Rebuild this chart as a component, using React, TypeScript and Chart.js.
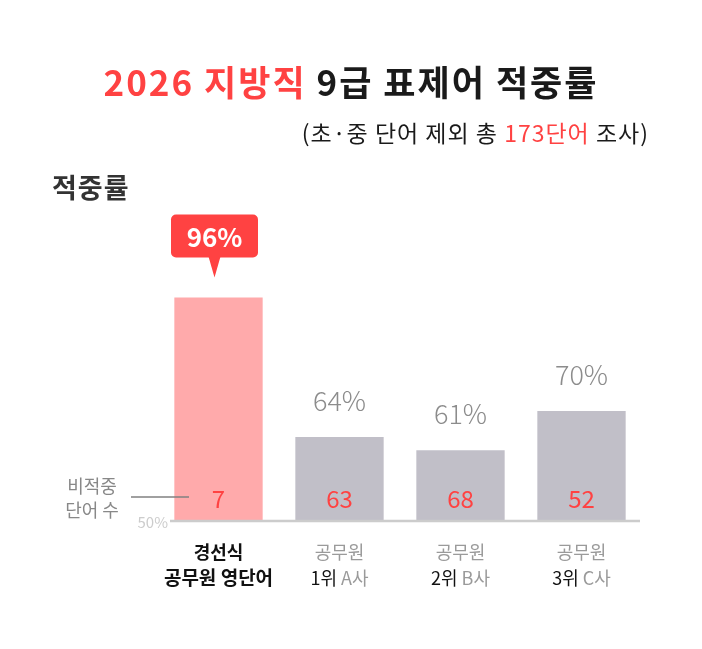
import { useEffect, useRef } from 'react';
import Chart from 'chart.js/auto';

// chart values
const labelTop = ['경선식', '공무원', '공무원', '공무원'];
const labelBottom = ['공무원 영단어', '1위 A사', '2위 B사', '3위 C사'];
const hitRates = [96, 64, 61, 70];
const missCounts = [7, 63, 68, 52];
const baseTick = '50%';

const FONT = '"Noto Sans CJK KR", "Noto Sans", sans-serif';
const font = (weight: string | number, size: number) => `${weight} ${size}px ${FONT}`;

const RED = '#ff4242';

function drawRuns(
    ctx: CanvasRenderingContext2D,
    runs: [string, string][],
    x: number,
    y: number,
    align: 'left' | 'center' | 'right'
) {
    const widths = runs.map(r => ctx.measureText(r[0]).width);
    const total = widths.reduce((a, b) => a + b, 0);
    let start = align === 'center' ? x - total / 2 : align === 'right' ? x - total : x;
    ctx.textAlign = 'left';
    runs.forEach((r, i) => {
        ctx.fillStyle = r[1];
        ctx.fillText(r[0], start, y);
        start += widths[i];
    });
}

const labelsPlugin = {
    id: 'infographicLabels',
    afterDraw(chart: Chart) {
        const ctx = chart.ctx as any;
        const area = chart.chartArea;
        const bars = chart.getDatasetMeta(0).data as any[];
        const cx = chart.width / 2;

        ctx.save();
        ctx.textBaseline = 'middle';

        // titles
        ctx.font = font('bold', 35);
        ctx.letterSpacing = '2px';
        drawRuns(ctx, [['2026 지방직', RED], [' 9급 표제어 적중률', '#1a1a1a']], cx, 83, 'center');
        ctx.font = font('normal', 23);
        ctx.letterSpacing = '1px';
        drawRuns(ctx, [['(초·중 단어 제외 총 ', '#1a1a1a'], ['173단어', RED], [' 조사)', '#1a1a1a']], 649, 133, 'right');
        ctx.font = font('bold', 27);
        ctx.letterSpacing = '1px';
        drawRuns(ctx, [['적중률', '#333333']], 52, 188, 'left');
        ctx.letterSpacing = '0px';

        // baseline
        ctx.strokeStyle = '#cccccc';
        ctx.lineWidth = 2.5;
        ctx.beginPath();
        ctx.moveTo(area.left + 12, area.bottom + 1);
        ctx.lineTo(area.right - 2, area.bottom + 1);
        ctx.stroke();

        ctx.font = font('normal', 15);
        drawRuns(ctx, [[baseTick, '#cccccc']], area.left + 10, area.bottom + 2, 'right');

        bars.forEach((bar, i) => {
            // hit rate above bar
            if (i === 0) {
                const bx = bar.x - 4;
                const top = bar.y - 83;
                const w = 87;
                const h = 43;
                ctx.fillStyle = RED;
                ctx.beginPath();
                ctx.roundRect(bx - w / 2, top, w, h, 5);
                ctx.fill();
                ctx.beginPath();
                ctx.moveTo(bx - 6, top + h - 1);
                ctx.lineTo(bx + 6, top + h - 1);
                ctx.lineTo(bx, bar.y - 20);
                ctx.closePath();
                ctx.fill();
                ctx.font = font('bold', 26);
                drawRuns(ctx, [[`${hitRates[i]}%`, '#ffffff']], bx, top + h / 2 + 1, 'center');
            } else {
                ctx.font = font(300, 27);
                drawRuns(ctx, [[`${hitRates[i]}%`, '#8c8c8c']], bar.x, bar.y - 36, 'center');
            }

            // miss count inside bar
            ctx.font = font('normal', 24);
            drawRuns(ctx, [[String(missCounts[i]), RED]], bar.x, area.bottom - 21, 'center');

            // category labels
            const y1 = area.bottom + 32;
            const y2 = area.bottom + 58;
            if (i === 0) {
                ctx.font = font('bold', 18);
                drawRuns(ctx, [[labelTop[i], '#111111']], bar.x, y1, 'center');
                ctx.font = font('bold', 19);
                drawRuns(ctx, [[labelBottom[i], '#111111']], bar.x, y2, 'center');
            } else {
                ctx.font = font('normal', 18);
                drawRuns(ctx, [[labelTop[i], '#9a9a9a']], bar.x, y1, 'center');
                const [rank, company] = labelBottom[i].split(' ');
                drawRuns(ctx, [[rank, '#111111'], [' ' + company, '#9a9a9a']], bar.x, y2, 'center');
            }
        });

        // legend note for miss counts
        ctx.font = font('normal', 18);
        drawRuns(ctx, [['비적중', '#888888']], 92, area.bottom - 34, 'center');
        drawRuns(ctx, [['단어 수', '#888888']], 92, area.bottom - 10, 'center');
        ctx.strokeStyle = '#808080';
        ctx.lineWidth = 1.5;
        ctx.beginPath();
        ctx.moveTo(131, area.bottom - 23);
        ctx.lineTo(189, area.bottom - 23);
        ctx.stroke();

        ctx.restore();
    }
};

export default function App() {
    const chartRef = useRef<HTMLCanvasElement>(null);
    const chartInstance = useRef<Chart | null>(null);

    useEffect(() => {
        if (!chartRef.current) return;
        if (chartInstance.current) {
            chartInstance.current.destroy();
        }
        const ctx = chartRef.current.getContext('2d');
        if (!ctx) return;

        chartInstance.current = new Chart(ctx, {
            type: 'bar',
            data: {
                labels: labelTop.map((t, i) => `${t} ${labelBottom[i]}`),
                datasets: [
                    {
                        label: '적중률',
                        data: hitRates,
                        backgroundColor: ['#ffaaab', '#c1bfc8', '#c1bfc8', '#c1bfc8'],
                        borderWidth: 0,
                        barPercentage: 0.73,
                        categoryPercentage: 1,
                    }
                ]
            },
            options: {
                responsive: true,
                maintainAspectRatio: false,
                animation: false,
                layout: {
                    padding: { left: 158, right: 60, top: 280, bottom: 129 }
                },
                plugins: {
                    legend: { display: false },
                    title: { display: false },
                    tooltip: { enabled: false }
                },
                scales: {
                    x: { display: false },
                    y: { display: false, min: 45, max: 100 }
                }
            },
            plugins: [labelsPlugin]
        });

        return () => {
            if (chartInstance.current) {
                chartInstance.current.destroy();
                chartInstance.current = null;
            }
        };
    }, []);

    return (
        <div style={{ position: 'absolute', left: 0, top: 0, width: 702, height: 649, background: '#fff' }}>
            <canvas ref={chartRef} />
        </div>
    );
}
